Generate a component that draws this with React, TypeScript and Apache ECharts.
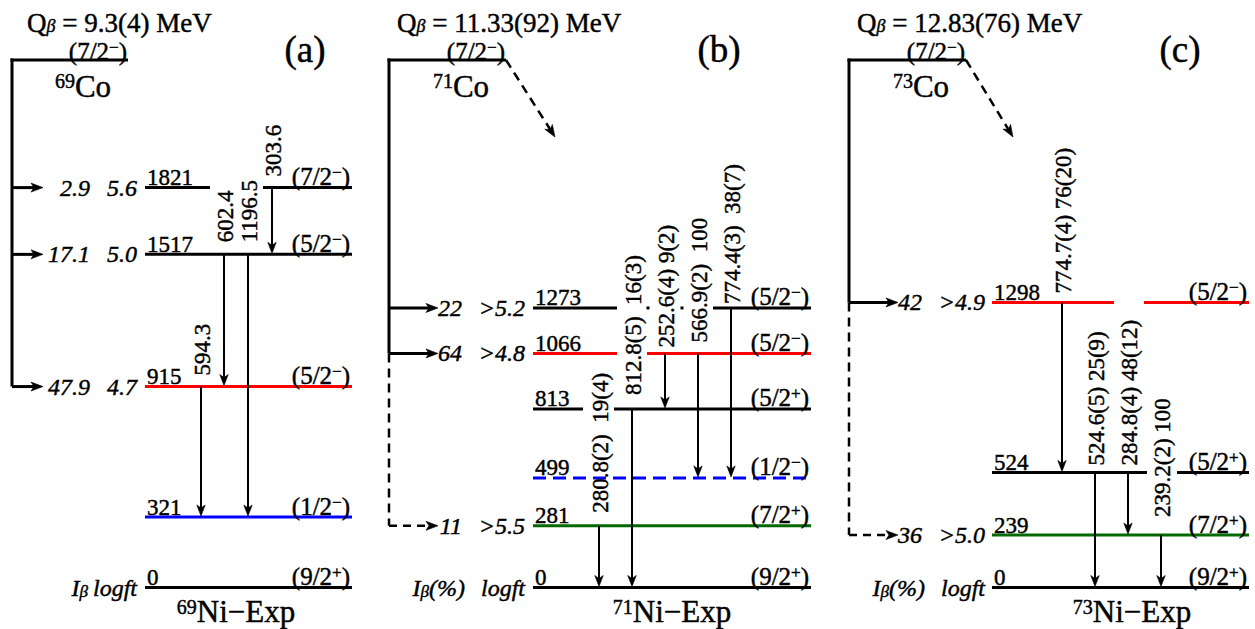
import React, { useEffect, useRef } from "react";
import * as echarts from "echarts";

// ================= DATA =================
// Panel (a): 69Co -> 69Ni
const A_Q = "9.3(4)";
const A_PARENT_SPIN = "7/2-";
const A_MASS = "69";
const A_LEVELS = [0, 321, 915, 1517, 1821];
const A_SPINS = ["9/2+", "1/2-", "5/2-", "5/2-", "7/2-"];
const A_IBETA = ["", "", "47.9", "17.1", "2.9"];
const A_LOGFT = ["", "", "4.7", "5.0", "5.6"];
const A_GAMMA_FROM = [1821, 1517, 1517, 915];
const A_GAMMA_TO = [1517, 915, 321, 321];
const A_GAMMA_LABELS = ["303.6", "602.4", "1196.5", "594.3"];

// Panel (b): 71Co -> 71Ni
const B_Q = "11.33(92)";
const B_PARENT_SPIN = "7/2-";
const B_MASS = "71";
const B_LEVELS = [0, 281, 499, 813, 1066, 1273];
const B_SPINS = ["9/2+", "7/2+", "1/2-", "5/2+", "5/2-", "5/2-"];
const B_IBETA = ["", "11", "", "", "64", "22"];
const B_LOGFT = ["", ">5.5", "", "", ">4.8", ">5.2"];
const B_GAMMA_FROM = [281, 813, 1066, 1066, 1273];
const B_GAMMA_TO = [0, 0, 813, 499, 499];
const B_GAMMA_LABELS = ["280.8(2)  19(4)", "812.8(5)  16(3)", "252.6(4) 9(2)", "566.9(2)  100", "774.4(3)  38(7)"];

// Panel (c): 73Co -> 73Ni
const C_Q = "12.83(76)";
const C_PARENT_SPIN = "7/2-";
const C_MASS = "73";
const C_LEVELS = [0, 239, 524, 1298];
const C_SPINS = ["9/2+", "7/2+", "5/2+", "5/2-"];
const C_IBETA = ["", "36", "", "42"];
const C_LOGFT = ["", ">5.0", "", ">4.9"];
const C_GAMMA_FROM = [1298, 524, 524, 239];
const C_GAMMA_TO = [524, 0, 239, 0];
const C_GAMMA_LABELS = ["774.7(4) 76(20)", "524.6(5) 25(9)", "284.8(4) 48(12)", "239.2(2) 100"];

// feedings drawn dashed (energies)
const B_DASHED_FEEDS = [281];
const C_DASHED_FEEDS = [239];

// ================= LAYOUT / STYLE =================
const W = 1255;
const H = 629;
const KEV_PX = 0.2196; // px per keV
const ZERO_Y = 587.5;
const Y_MAX = ZERO_Y / KEV_PX;
const Y_MIN = -(H - ZERO_Y) / KEV_PX;
const PARENT_E = (ZERO_Y - 60) / KEV_PX; // drawing height of parent level

const FONT = "Liberation Serif";
const RED = "#ff0000";
const BLUE = "#0000ff";
const GREEN = "#006a00";
const TEXT_STROKE = 0.45;

type LevelStyle = { color: string; dash?: number[] };

const PANELS = [
  {
    q: A_Q, parentSpin: A_PARENT_SPIN, mass: A_MASS, letter: "(a)",
    levels: A_LEVELS, spins: A_SPINS, ibeta: A_IBETA, logft: A_LOGFT,
    gFrom: A_GAMMA_FROM, gTo: A_GAMMA_TO, gLabels: A_GAMMA_LABELS, dashedFeeds: [] as number[],
    L: {
      qX: 27, parent: [12, 128], coX: 83, letterX: 305, trunkX: 12, feedTip: 43,
      ibetaRight: 90, logftRight: 137, levelX: [145, 352],
      gaps: { 1821: [[210, 263]] } as Record<number, number[][]>,
      gammaX: [272, 224, 248, 201], gammaGap: [11, 12, 12, 11],
      bottomIbRight: 88, pct: false, daughterX: 236, diag: null as null | number[],
      styles: { 915: { color: RED }, 321: { color: BLUE } } as Record<number, LevelStyle>,
    },
  },
  {
    q: B_Q, parentSpin: B_PARENT_SPIN, mass: B_MASS, letter: "(b)",
    levels: B_LEVELS, spins: B_SPINS, ibeta: B_IBETA, logft: B_LOGFT,
    gFrom: B_GAMMA_FROM, gTo: B_GAMMA_TO, gLabels: B_GAMMA_LABELS, dashedFeeds: B_DASHED_FEEDS,
    L: {
      qX: 397, parent: [389, 506], coX: 461, letterX: 719, trunkX: 389, feedTip: 438,
      ibetaRight: 462, logftRight: 525, levelX: [533, 811],
      gaps: {
        1273: [[617, 646.5], [649.5, 680.5], [683.5, 713]],
        1066: [[617, 647]],
        813: [[583, 614]],
      } as Record<number, number[][]>,
      gammaX: [599, 632, 665, 698, 731], gammaGap: [13, 14, 6, 11, 4],
      bottomIbRight: 465, pct: true, daughterX: 672, diag: [49, 77],
      styles: {
        1066: { color: RED }, 499: { color: BLUE, dash: [13, 7] }, 281: { color: GREEN },
      } as Record<number, LevelStyle>,
    },
  },
  {
    q: C_Q, parentSpin: C_PARENT_SPIN, mass: C_MASS, letter: "(c)",
    levels: C_LEVELS, spins: C_SPINS, ibeta: C_IBETA, logft: C_LOGFT,
    gFrom: C_GAMMA_FROM, gTo: C_GAMMA_TO, gLabels: C_GAMMA_LABELS, dashedFeeds: C_DASHED_FEEDS,
    L: {
      qX: 857, parent: [849, 966], coX: 921, letterX: 1180, trunkX: 849, feedTip: 898,
      ibetaRight: 922, logftRight: 985, levelX: [992, 1249],
      gaps: { 1298: [[1114, 1144]], 524: [[1147, 1177]] } as Record<number, number[][]>,
      gammaX: [1062, 1095, 1128, 1161], gammaGap: [9, 7, 7, 18],
      bottomIbRight: 925, pct: true, daughterX: 1132, diag: [47, 77],
      styles: { 1298: { color: RED }, 239: { color: GREEN } } as Record<number, LevelStyle>,
    },
  },
];

// ================= helpers =================
const rs = (size: number, extra: any = {}) => ({
  fontFamily: FONT, fontSize: size, fill: "#000", stroke: "#000", lineWidth: TEXT_STROKE, ...extra,
});

function text(x: number, y: number, t: string, o: any = {}) {
  return {
    type: "text",
    x, y,
    rotation: o.rotation || 0,
    style: {
      text: t,
      fill: "#000",
      stroke: "#000",
      lineWidth: TEXT_STROKE,
      fontFamily: FONT,
      fontSize: o.size || 23,
      fontStyle: o.italic ? "italic" : "normal",
      align: o.align || "left",
      verticalAlign: "middle",
      rich: o.rich,
    },
  };
}

function line(x1: number, y1: number, x2: number, y2: number, color: string, w: number, dash?: number[]) {
  return {
    type: "line",
    shape: { x1, y1, x2, y2 },
    style: { stroke: color, lineWidth: w, lineDash: dash || null, fill: null },
  };
}

function arrowHead(tx: number, ty: number, dx: number, dy: number, len = 11, half = 4.2, notch = 3) {
  const n = Math.hypot(dx, dy);
  const ux = dx / n, uy = dy / n;
  const px = -uy, py = ux;
  const bx = tx - ux * len, by = ty - uy * len;
  const nx = tx - ux * (len - notch), ny = ty - uy * (len - notch);
  return {
    type: "polygon",
    shape: { points: [[tx, ty], [bx + px * half, by + py * half], [nx, ny], [bx - px * half, by - py * half]] },
    style: { fill: "#000", stroke: "#000", lineWidth: 0.6 },
  };
}

function spinRich(s: string) {
  const sign = s.slice(-1) === "+" ? "+" : "\u2212";
  return `{n|(${s.slice(0, -1)}}{p|${sign}}{n|)}`;
}

const SPIN_RICH = (size: number) => ({
  n: rs(size, { lineHeight: size }),
  p: rs(Math.round(size * 0.68), { lineHeight: 7, verticalAlign: "top" }),
});

function buildPanel(P: any, api: any) {
  const L = P.L;
  const X = (x: number) => api.coord([x, 0])[0];
  const Y = (e: number) => api.coord([0, e])[1];
  const out: any[] = [];
  const yPar = Y(PARENT_E);

  // Q value
  out.push(
    text(X(L.qX), yPar - 37, `{q|Q}{b|\u03B2}{q| = ${P.q} MeV}`, {
      rich: {
        q: rs(27, { lineHeight: 23 }),
        b: rs(18, { fontStyle: "italic", lineHeight: 10, verticalAlign: "bottom" }),
      },
    })
  );
  // panel letter
  out.push(text(X(L.letterX), yPar - 11, P.letter, { size: 37, align: "center" }));
  // parent level
  out.push(line(X(L.parent[0]) - 1.5, yPar, X(L.parent[1]), yPar, "#000", 3));
  out.push(text(X(L.parent[1]) - 1, yPar - 9, spinRich(P.parentSpin), { align: "right", rich: SPIN_RICH(25) }));
  out.push(
    text(X(L.coX), yPar + 26, `{p|${P.mass}}{n|Co}`, {
      align: "center",
      rich: { n: rs(31, { lineHeight: 30 }), p: rs(20, { lineHeight: 14, verticalAlign: "top" }) },
    })
  );

  // trunk + feeding arrows
  const fed = P.levels.filter((_: number, i: number) => P.ibeta[i] !== "");
  const solidFed = fed.filter((e: number) => P.dashedFeeds.indexOf(e) < 0);
  const lowestSolid = Math.min(...solidFed);
  const lowest = Math.min(...fed);
  const tx = X(L.trunkX);
  out.push(line(tx, yPar - 1.5, tx, Y(lowestSolid), "#000", 3));
  if (lowest < lowestSolid) out.push(line(tx, Y(lowestSolid), tx, Y(lowest), "#000", 2.5, [9, 6]));
  P.levels.forEach((e: number, i: number) => {
    if (P.ibeta[i] === "") return;
    const y = Y(e);
    const dashed = P.dashedFeeds.indexOf(e) >= 0;
    out.push(line(tx, y, X(L.feedTip) - 8, y, "#000", dashed ? 2.5 : 3, dashed ? [8, 6] : undefined));
    out.push(arrowHead(X(L.feedTip), y, 1, 0, 12, 4.5, 3));
    out.push(text(X(L.ibetaRight), y, P.ibeta[i], { italic: true, align: "right", size: 24 }));
    out.push(text(X(L.logftRight), y, P.logft[i], { italic: true, align: "right", size: 24 }));
  });

  // diagonal dashed arrow (unobserved feeding)
  if (L.diag) {
    const x0 = X(L.parent[1]);
    const x1 = x0 + L.diag[0], y1 = yPar + L.diag[1];
    const n = Math.hypot(L.diag[0], L.diag[1]);
    out.push(line(x0, yPar, x1 - (L.diag[0] / n) * 8, y1 - (L.diag[1] / n) * 8, "#000", 2.5, [9, 6]));
    out.push(arrowHead(x1, y1, L.diag[0], L.diag[1], 12, 4.5, 3));
  }

  // levels
  P.levels.forEach((e: number, i: number) => {
    const y = Y(e);
    const st: LevelStyle = L.styles[e] || { color: "#000" };
    const gaps = L.gaps[e] || [];
    let start = L.levelX[0];
    const segs: number[][] = [];
    gaps.forEach((g: number[]) => {
      segs.push([start, g[0]]);
      start = g[1];
    });
    segs.push([start, L.levelX[1]]);
    segs.forEach((s) => out.push(line(X(s[0]), y, X(s[1]), y, st.color, 3, st.dash)));
    out.push(text(X(L.levelX[0]) + 2, y - 10, String(e), { size: 23 }));
    out.push(text(X(L.levelX[1]) - 2, y - 11, spinRich(P.spins[i]), { align: "right", rich: SPIN_RICH(25) }));
  });

  // gamma transitions
  P.gFrom.forEach((ef: number, i: number) => {
    const x = X(L.gammaX[i]);
    const y0 = Y(ef);
    const y1 = Y(P.gTo[i]) - 1;
    out.push(line(x, y0, x, y1 - 8, "#000", 2));
    out.push(arrowHead(x, y1, 0, 1, 11, 4.2, 3));
    out.push(text(x + 1, y0 - L.gammaGap[i], P.gLabels[i], { rotation: Math.PI / 2, align: "left", size: 23 }));
  });

  // bottom labels
  const y0 = Y(0);
  out.push(
    text(X(L.bottomIbRight), y0, L.pct ? `{i|I}{b|\u03B2}{i|(%)}` : `{i|I}{b|\u03B2}`, {
      align: "right",
      rich: {
        i: rs(24, { fontStyle: "italic", lineHeight: 24 }),
        b: rs(17, { fontStyle: "italic", lineHeight: 12, verticalAlign: "bottom" }),
      },
    })
  );
  out.push(text(X(L.logftRight), y0, "logft", { italic: true, align: "right", size: 24 }));
  out.push(
    text(X(L.daughterX), y0 + 24, `{p|${P.mass}}{n|Ni\u2212Exp}`, {
      align: "center",
      rich: { n: rs(31, { lineHeight: 30 }), p: rs(20, { lineHeight: 14, verticalAlign: "top" }) },
    })
  );
  return out;
}

export default function App() {
  const ref = useRef<HTMLDivElement>(null);
  useEffect(() => {
    if (!ref.current) return;
    const chart = echarts.init(ref.current, null, { renderer: "svg" });
    chart.setOption({
      animation: false,
      backgroundColor: "#fff",
      grid: { left: 0, right: 0, top: 0, bottom: 0 },
      xAxis: { type: "value", min: 0, max: W, show: false },
      yAxis: { type: "value", min: Y_MIN, max: Y_MAX, show: false },
      series: PANELS.map((P) => ({
        type: "custom",
        coordinateSystem: "cartesian2d",
        clip: false,
        silent: true,
        data: [[0, 0]],
        renderItem: (_params: any, api: any) => ({ type: "group", children: buildPanel(P, api) }),
      })),
    });
    return () => chart.dispose();
  }, []);
  return <div ref={ref} style={{ position: "fixed", left: 0, top: 0, width: W, height: H }} />;
}
